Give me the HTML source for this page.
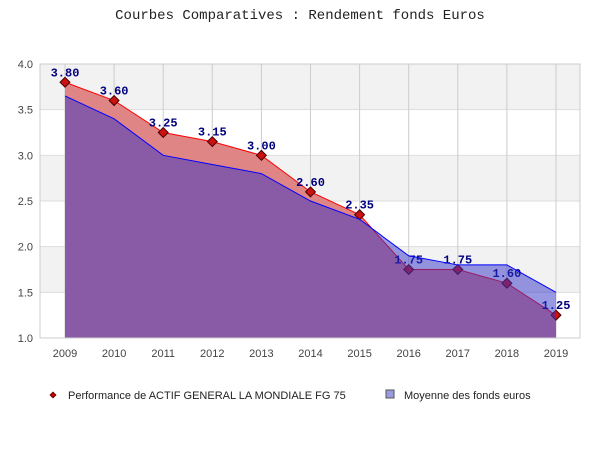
<!DOCTYPE html>
<html><head><meta charset="utf-8"><style>
body{margin:0;background:#fff;}
svg{display:block;font-family:"Liberation Sans",sans-serif;}
</style></head><body>
<svg id="c" width="600" height="450">
<text x="300" y="19" text-anchor="middle" font-family="Liberation Mono, monospace" font-size="14" fill="#222">Courbes Comparatives : Rendement fonds Euros</text>
<g id="bands"></g><g id="grid"></g><g id="red"></g><g id="blue"></g><g id="axes"></g>
<g>
<rect x="51" y="393" width="4" height="4" fill="#c00" stroke="#600" transform="rotate(45 53 395)"/>
<text x="68" y="399" font-size="11" fill="#222">Performance de ACTIF GENERAL LA MONDIALE FG 75</text>
<rect x="386" y="390" width="8" height="8" fill="#9a9ae0" stroke="#555"/>
<text x="404" y="399" font-size="11" fill="#222">Moyenne des fonds euros</text>
</g>
</svg>
<script>
const years=["2009","2010","2011","2012","2013","2014","2015","2016","2017","2018","2019"];
const perf=[3.80,3.60,3.25,3.15,3.00,2.60,2.35,1.75,1.75,1.60,1.25];
const moy=[3.65,3.40,3.00,2.90,2.80,2.50,2.30,1.90,1.80,1.80,1.50];
const yTicks=[1.0,1.5,2.0,2.5,3.0,3.5,4.0];
const L=40,R=580,T=64,B=338,yMin=1,yMax=4;
const X=i=>65+i*(556-65)/(years.length-1);
const Y=v=>B-(v-yMin)/(yMax-yMin)*(B-T);
const NS="http://www.w3.org/2000/svg";
function mk(tag,parent,attrs){const e=document.createElementNS(NS,tag);for(const k in attrs)e.setAttribute(k,attrs[k]);document.getElementById(parent).appendChild(e);return e;}
for(let k=0;k<yTicks.length-1;k++){
 const r=mk('rect','bands',{x:L,y:Y(yTicks[k+1]),width:R-L,height:Y(yTicks[k])-Y(yTicks[k+1]),fill:(k%2)?'#f2f2f2':'#fff'});
 
 
}
yTicks.forEach(v=>{
 const l=mk('line','grid',{x1:L,x2:R,y1:Y(v),y2:Y(v),stroke:'#ddd'});
 
 
 const t=mk('text','axes',{x:L-7,y:Y(v)+4,'text-anchor':'end','font-size':'11',fill:'#444'});t.textContent=v.toFixed(1);
 
 
});
years.forEach((y,i)=>{
 const l=mk('line','grid',{x1:X(i),x2:X(i),y1:T,y2:B,stroke:'#ccc'});
 
 
 const t=mk('text','axes',{x:X(i),y:B+19,'text-anchor':'middle','font-size':'11',fill:'#444'});t.textContent=y;
 
 
});
const fr=mk('rect','axes',{x:L,y:T,width:R-L,height:B-T,fill:'none',stroke:'#ccc'});


function pts(a){return a.map((v,i)=>X(i)+','+Y(v)).join(' ');}
const ra=mk('polygon','red',{points:pts(perf)+' '+X(perf.length-1)+','+B+' '+X(0)+','+B,fill:'#e08585'});


const rl=mk('polyline','red',{points:pts(perf),fill:'none',stroke:'#f00','stroke-width':1});


perf.forEach((v,i)=>{
 const m=mk('rect','red',{x:X(i)-3.5,y:Y(v)-3.5,width:7,height:7,fill:'#cc1111',stroke:'#400',transform:`rotate(45 ${X(i)} ${Y(v)})`});
 
 
 const t=mk('text','red',{x:X(i),y:Y(v)-6,'text-anchor':'middle','font-size':'12','font-weight':'bold','font-family':'Liberation Mono, monospace',fill:'#000080'});t.textContent=v.toFixed(2);
 
 
});
const ba=mk('polygon','blue',{points:pts(moy)+' '+X(moy.length-1)+','+B+' '+X(0)+','+B,fill:'rgba(50,50,200,0.5)'});


const bl=mk('polyline','blue',{points:pts(moy),fill:'none',stroke:'#00f','stroke-width':1});


</script>
</body></html>
